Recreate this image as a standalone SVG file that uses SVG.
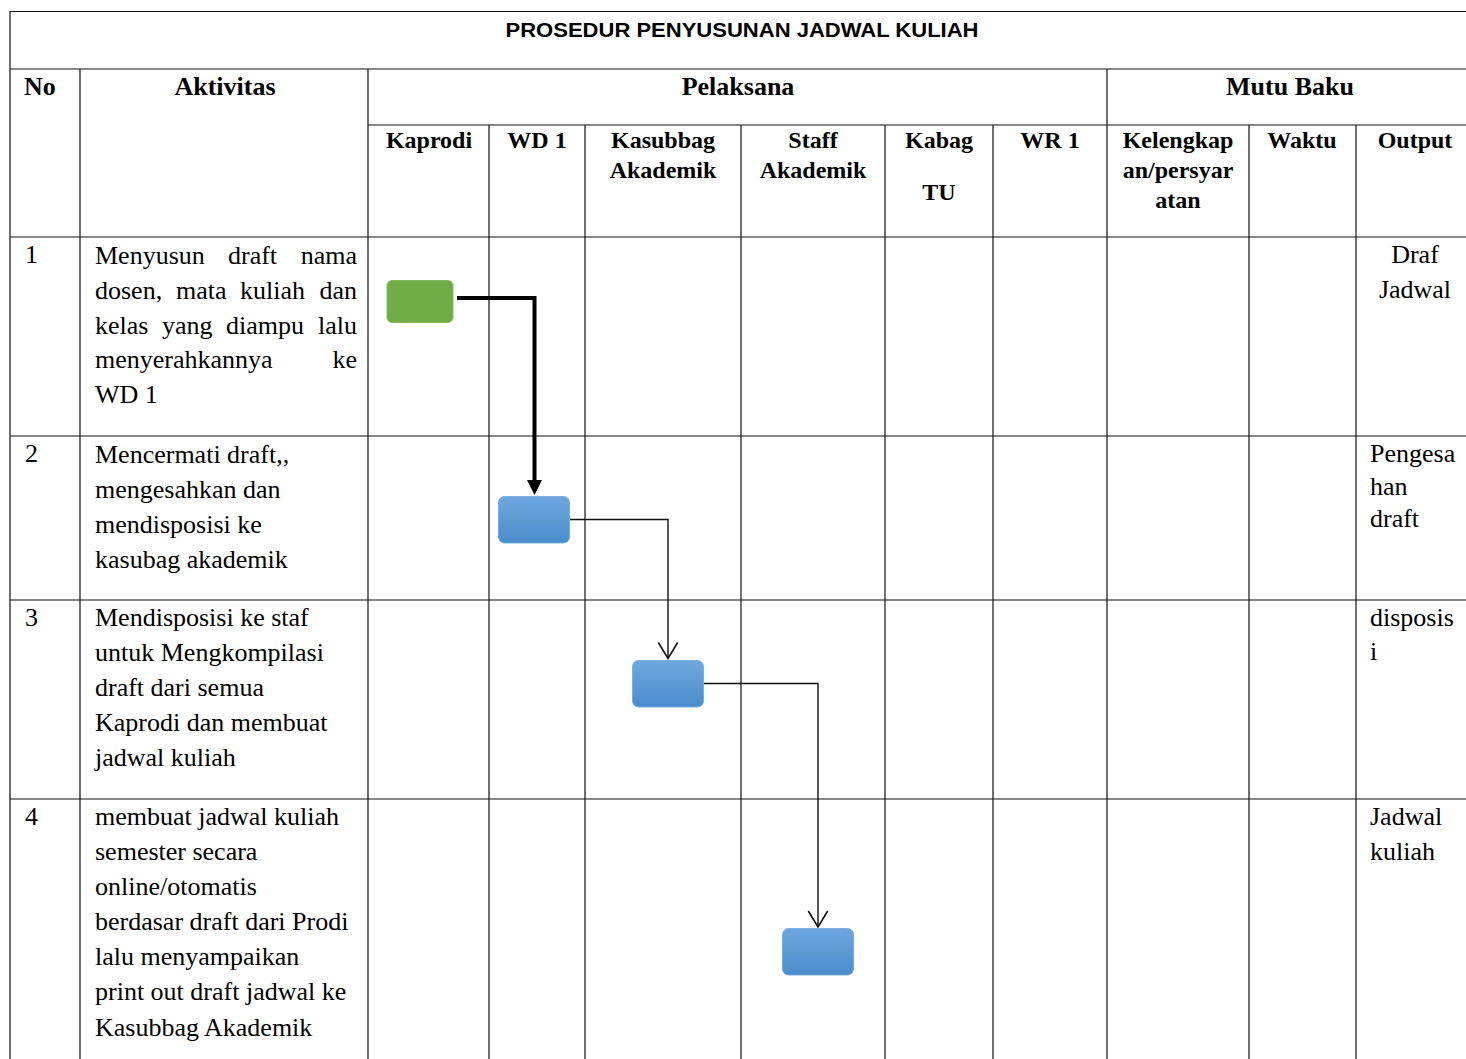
<svg xmlns="http://www.w3.org/2000/svg" width="1466" height="1059" viewBox="0 0 1466 1059">
<style>
.grid{stroke:#111;stroke-width:1.2;fill:none}
.title{font-family:"Liberation Sans",Arial,sans-serif;font-weight:bold;font-size:21px;fill:#000}
.h{font-family:"Liberation Serif","Times New Roman",serif;font-weight:bold;font-size:26px;fill:#000}
.sh{font-family:"Liberation Serif","Times New Roman",serif;font-weight:bold;font-size:24px;fill:#000}
.t{font-family:"Liberation Serif","Times New Roman",serif;font-size:26px;fill:#000}
.c{text-anchor:middle}
.e{text-anchor:end}
.thin{stroke:#111;stroke-width:1.4;fill:none}
.thick{stroke:#000;stroke-width:4;fill:none}
.blue{fill:url(#bg);stroke:#7aaee0;stroke-width:1}
.green{fill:#70ad47;stroke:#86bd62;stroke-width:1}
</style>
<defs>
<linearGradient id="bg" x1="0" y1="0" x2="0" y2="1">
<stop offset="0" stop-color="#6fa8dd"/>
<stop offset="1" stop-color="#4a8ccb"/>
</linearGradient>
<marker id="openV" markerUnits="userSpaceOnUse" viewBox="-18 -12 20 24" refX="0" refY="0" markerWidth="20" markerHeight="24" orient="auto">
<path d="M-16,-9.7 L0,0 L-16,9.7" fill="none" stroke="#111" stroke-width="1.6"/>
</marker>
<marker id="solid" markerUnits="userSpaceOnUse" viewBox="-16 -8 17 16" refX="-14" refY="0" markerWidth="17" markerHeight="16" orient="auto">
<path d="M-15,-7.5 L0,0 L-15,7.5 Z" fill="#000"/>
</marker>
</defs>

<g id="table">
<line class="grid" x1="10" y1="11.5" x2="1480" y2="11.5"/>
<line class="grid" x1="10" y1="69" x2="1480" y2="69"/>
<line class="grid" x1="368" y1="125" x2="1480" y2="125"/>
<line class="grid" x1="10" y1="237" x2="1480" y2="237"/>
<line class="grid" x1="10" y1="436" x2="1480" y2="436"/>
<line class="grid" x1="10" y1="600" x2="1480" y2="600"/>
<line class="grid" x1="10" y1="799" x2="1480" y2="799"/>
<line class="grid" x1="10" y1="11" x2="10" y2="1059"/>
<line class="grid" x1="80" y1="69" x2="80" y2="1059"/>
<line class="grid" x1="368" y1="69" x2="368" y2="1059"/>
<line class="grid" x1="1107" y1="69" x2="1107" y2="1059"/>
<line class="grid" x1="489" y1="125" x2="489" y2="1059"/>
<line class="grid" x1="585" y1="125" x2="585" y2="1059"/>
<line class="grid" x1="741" y1="125" x2="741" y2="1059"/>
<line class="grid" x1="885" y1="125" x2="885" y2="1059"/>
<line class="grid" x1="993" y1="125" x2="993" y2="1059"/>
<line class="grid" x1="1249" y1="125" x2="1249" y2="1059"/>
<line class="grid" x1="1356" y1="125" x2="1356" y2="1059"/>
</g>

<g id="headers">
<text class="title c" x="742" y="37" textLength="473" lengthAdjust="spacingAndGlyphs">PROSEDUR PENYUSUNAN JADWAL KULIAH</text>
<text class="h" x="24" y="95">No</text>
<text class="h c" x="225" y="95">Aktivitas</text>
<text class="h c" x="738" y="95">Pelaksana</text>
<text class="h c" x="1290" y="95">Mutu Baku</text>
<text class="sh c" x="429" y="148">Kaprodi</text>
<text class="sh c" x="537" y="148">WD 1</text>
<text class="sh c" x="663" y="148">Kasubbag</text>
<text class="sh c" x="663" y="178">Akademik</text>
<text class="sh c" x="813" y="148">Staff</text>
<text class="sh c" x="813" y="178">Akademik</text>
<text class="sh c" x="939" y="148">Kabag</text>
<text class="sh c" x="939" y="200">TU</text>
<text class="sh c" x="1050" y="148">WR 1</text>
<text class="sh c" x="1178" y="148">Kelengkap</text>
<text class="sh c" x="1178" y="178">an/persyar</text>
<text class="sh c" x="1178" y="208">atan</text>
<text class="sh c" x="1302" y="148">Waktu</text>
<text class="sh c" x="1415" y="148">Output</text>
</g>

<g id="row1">
<text class="t" x="25" y="263">1</text>
<text class="t" x="95" y="264">Menyusun</text>
<text class="t" x="228" y="264">draft</text>
<text class="t e" x="357" y="264">nama</text>
<text class="t" x="95" y="299">dosen,</text>
<text class="t" x="176" y="299">mata</text>
<text class="t" x="240" y="299">kuliah</text>
<text class="t e" x="357" y="299">dan</text>
<text class="t" x="95" y="334">kelas</text>
<text class="t" x="162" y="334">yang</text>
<text class="t" x="226" y="334">diampu</text>
<text class="t e" x="357" y="334">lalu</text>
<text class="t" x="95" y="368">menyerahkannya</text>
<text class="t e" x="357" y="368">ke</text>
<text class="t" x="95" y="403">WD 1</text>
<text class="t c" x="1415" y="263">Draf</text>
<text class="t c" x="1415" y="298">Jadwal</text>
</g>

<g id="row2">
<text class="t" x="25" y="462">2</text>
<text class="t" x="95" y="463">Mencermati draft,,</text>
<text class="t" x="95" y="498">mengesahkan dan</text>
<text class="t" x="95" y="533">mendisposisi ke</text>
<text class="t" x="95" y="568">kasubag akademik</text>
<text class="t" x="1370" y="462">Pengesa</text>
<text class="t" x="1370" y="495">han</text>
<text class="t" x="1370" y="527">draft</text>
</g>

<g id="row3">
<text class="t" x="25" y="626">3</text>
<text class="t" x="95" y="626">Mendisposisi ke staf</text>
<text class="t" x="95" y="661">untuk Mengkompilasi</text>
<text class="t" x="95" y="696">draft dari semua</text>
<text class="t" x="95" y="731">Kaprodi dan membuat</text>
<text class="t" x="95" y="766">jadwal kuliah</text>
<text class="t" x="1370" y="626">disposis</text>
<text class="t" x="1370" y="660">i</text>
</g>

<g id="row4">
<text class="t" x="25" y="825">4</text>
<text class="t" x="95" y="825">membuat jadwal kuliah</text>
<text class="t" x="95" y="860">semester secara</text>
<text class="t" x="95" y="895">online/otomatis</text>
<text class="t" x="95" y="930">berdasar draft dari Prodi</text>
<text class="t" x="95" y="965">lalu menyampaikan</text>
<text class="t" x="95" y="1000">print out draft jadwal ke</text>
<text class="t" x="95" y="1036">Kasubbag Akademik</text>
<text class="t" x="1370" y="825">Jadwal</text>
<text class="t" x="1370" y="860">kuliah</text>
</g>

<g id="connectors">
<path class="thick" d="M457,298 H534.5 V481" marker-end="url(#solid)"/>
<path class="thin" d="M569,519.5 H668 V658.5" marker-end="url(#openV)"/>
<path class="thin" d="M703,683.5 H818 V927" marker-end="url(#openV)"/>
</g>

<g id="n1"><rect class="green" x="387" y="280.5" width="66" height="42" rx="5"/></g>
<g id="n2"><rect class="blue" x="498.5" y="496.5" width="71" height="46.5" rx="6"/></g>
<g id="n3"><rect class="blue" x="632.5" y="660.5" width="71" height="46.5" rx="6"/></g>
<g id="n4"><rect class="blue" x="782.5" y="928.5" width="71" height="46.5" rx="6"/></g>
</svg>
